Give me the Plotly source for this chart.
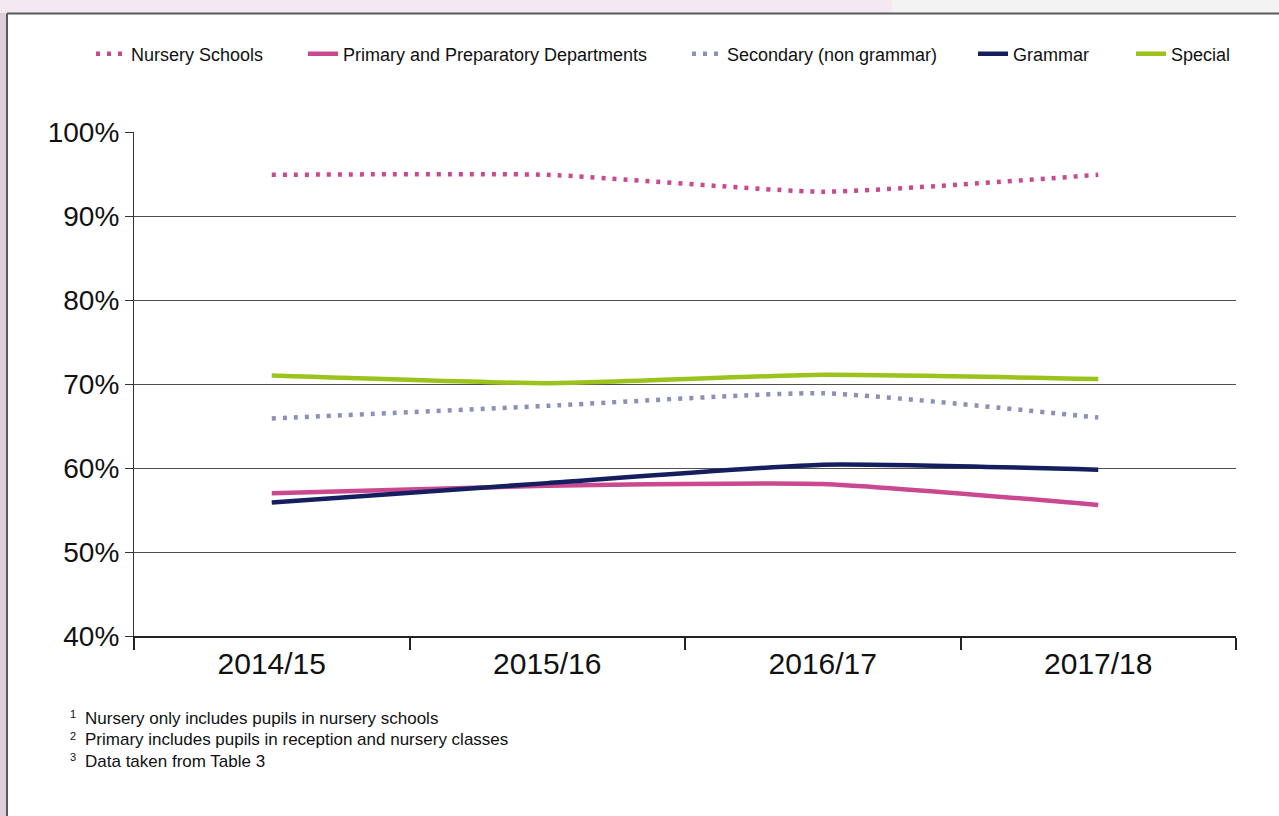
import plotly.graph_objects as go

years = ["2014/15", "2015/16", "2016/17", "2017/18"]
series_names = ["Nursery Schools", "Primary and Preparatory Departments",
                "Secondary (non grammar)", "Grammar", "Special"]
nursery = [94.9, 94.9, 92.9, 94.9]
primary = [57.0, 57.9, 58.1, 55.6]
secondary = [65.9, 67.4, 68.9, 66.0]
grammar = [55.9, 58.2, 60.4, 59.8]
special = [71.0, 70.1, 71.1, 70.6]
y_ticks = [40, 50, 60, 70, 80, 90, 100]
footnotes = ["Nursery only includes pupils in nursery schools",
             "Primary includes pupils in reception and nursery classes",
             "Data taken from Table 3"]

W, H = 1279, 816
L, R, T, B = 134, 43, 132, 180
PW, PH = W - L - R, H - T - B
FONT = "Liberation Sans, Arial, sans-serif"


def px(x):
    return (x - L) / PW


def py(y):
    return (H - B - y) / PH


styles = [
    dict(color="#c9488f", width=4.5, dash="4px,7px"),
    dict(color="#c9488f", width=4.5),
    dict(color="#8a90b8", width=4.5, dash="4px,7px"),
    dict(color="#151f60", width=4.5),
    dict(color="#9cc31c", width=4.5),
]
legend_w = [167, 339, 241, 113, 80]
data = [nursery, primary, secondary, grammar, special]

fig = go.Figure()
for name, vals, st, lw in zip(series_names, data, styles, legend_w):
    fig.add_trace(go.Scatter(
        x=years, y=vals, name=name, mode="lines",
        line=dict(shape="spline", smoothing=0.5, **st),
        legendwidth=lw, hoverinfo="skip",
    ))

shapes = [
    dict(type="rect", xref="paper", yref="paper", x0=px(0), x1=px(W), y0=py(H), y1=py(0),
         fillcolor="#f4e9f0", line_width=0, layer="below"),
    dict(type="rect", xref="paper", yref="paper", x0=px(892), x1=px(W), y0=py(13), y1=py(0),
         fillcolor="#f3f3f3", line_width=0, layer="below"),
    dict(type="rect", xref="paper", yref="paper", x0=px(0), x1=px(7), y0=py(H), y1=py(13),
         fillcolor="#ddd1d9", line_width=0, layer="below"),
    dict(type="rect", xref="paper", yref="paper", x0=px(7), x1=px(W), y0=py(H), y1=py(14),
         fillcolor="white", line_width=0, layer="below"),
    dict(type="line", xref="paper", yref="paper", x0=px(7), x1=px(W), y0=py(13.5), y1=py(13.5),
         line=dict(color="#5a5a5a", width=2), layer="below"),
    dict(type="line", xref="paper", yref="paper", x0=px(7), x1=px(7), y0=py(H), y1=py(13.5),
         line=dict(color="#5a5a5a", width=2), layer="below"),
]

annotations = []
for i, note in enumerate(footnotes):
    yy = 718 + i * 21.5
    annotations.append(dict(xref="paper", yref="paper", x=px(68), y=py(yy - 4),
                            text=str(i + 1), showarrow=False, xanchor="left", yanchor="middle",
                            font=dict(size=11, color="#111111", family=FONT)))
    annotations.append(dict(xref="paper", yref="paper", x=px(83), y=py(yy),
                            text=note, showarrow=False, xanchor="left", yanchor="middle",
                            font=dict(size=17, color="#111111", family=FONT)))

fig.update_layout(
    width=W, height=H,
    margin=dict(l=L, r=R, t=T, b=B),
    paper_bgcolor="white", plot_bgcolor="white",
    font=dict(family=FONT, color="#111111"),
    showlegend=True,
    legend=dict(orientation="h", x=px(91), y=py(54), xanchor="left", yanchor="middle",
                font=dict(size=18, family=FONT, color="#111111"),
                bgcolor="rgba(0,0,0,0)", traceorder="normal"),
    xaxis=dict(type="category", range=[-0.5, 3.5], tickson="boundaries",
               ticks="outside", ticklen=12, tickcolor="#222222", tickwidth=1.5,
               showline=True, linecolor="#222222", linewidth=1.5,
               showgrid=False, tickfont=dict(size=30, family=FONT, color="#111111"),
               fixedrange=True),
    yaxis=dict(range=[40, 100], tickvals=y_ticks, ticktext=[f"{v}%" for v in y_ticks],
               ticks="outside", ticklen=8, tickcolor="#333333",
               showline=True, linecolor="#333333", linewidth=1.2,
               showgrid=True, gridcolor="#505050", gridwidth=1.2, zeroline=False,
               tickfont=dict(size=28, family=FONT, color="#111111"), fixedrange=True),
    shapes=shapes,
    annotations=annotations,
)

fig.write_html("out.html", config={"displayModeBar": False},
               post_script="document.body.style.margin='0';document.body.style.padding='0';")
